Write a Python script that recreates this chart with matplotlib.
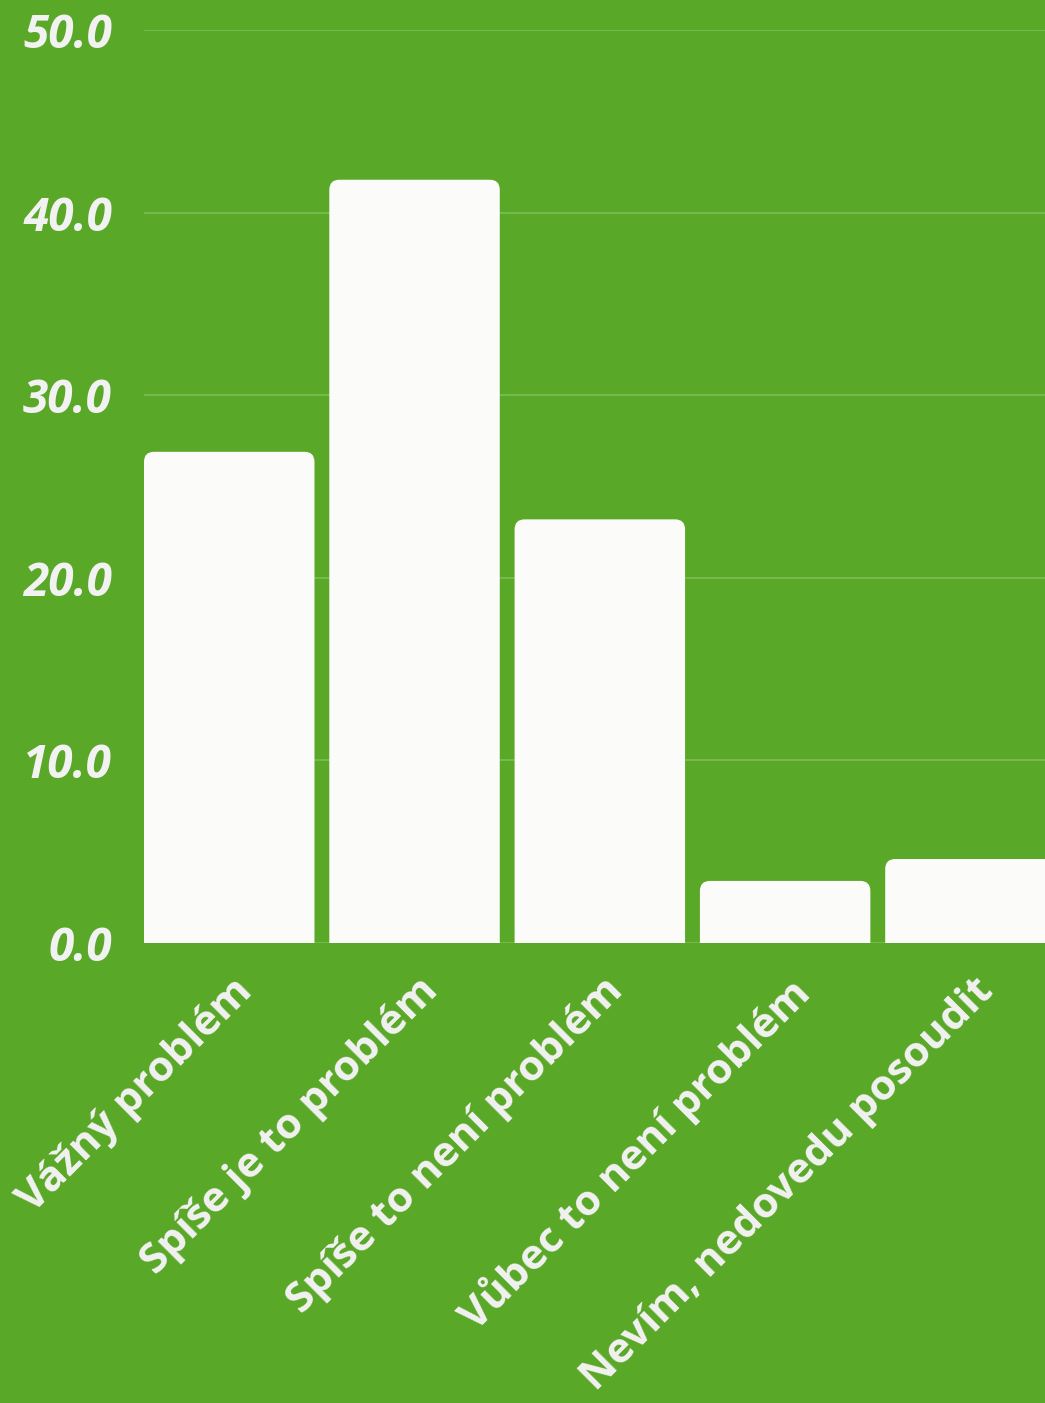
import matplotlib
matplotlib.use('Agg')
import matplotlib.pyplot as plt
import matplotlib.transforms as mtransforms
from matplotlib.patches import FancyBboxPatch

BG = '#5aa828'
BAR = '#fbfbf9'
TXT = '#f2f2f2'
GRID = '#7dbd55'
FONT = ['Open Sans', 'DejaVu Sans']

categories = ['Vážný problém', 'Spíše je to problém', 'Spíše to není problém',
              'Vůbec to není problém', 'Nevím, nedovedu posoudit']
values = [26.9, 41.8, 23.2, 3.4, 4.6]
yticks = [0, 10, 20, 30, 40, 50]

W, H = 1045, 1403
fig = plt.figure(figsize=(W / 100, H / 100), dpi=100)
fig.patch.set_facecolor(BG)
ax = fig.add_axes([144 / W, (H - 943) / H, 1 - 144 / W, (943 - 30) / H])
ax.set_facecolor(BG)

x = list(range(len(categories)))
bars = ax.bar(x, values, width=0.92, bottom=0, color=BAR, zorder=2)

ax.set_xlim(-0.46, -0.46 + 901 / 185.3)
ax.set_ylim(0, 50)

# replace bars by rounded-top versions
fig.canvas.draw()
px_x = (ax.get_xlim()[1] - ax.get_xlim()[0]) / ax.bbox.width
px_y = (ax.get_ylim()[1] - ax.get_ylim()[0]) / ax.bbox.height
r = 10 * px_x
aspect = px_y / px_x
for b in bars:
    b.set_visible(False)
    ext = 2.0
    p = FancyBboxPatch((b.get_x(), b.get_y() - ext), b.get_width(), b.get_height() + ext,
                       boxstyle=f"round,pad=0,rounding_size={r}",
                       mutation_aspect=aspect, facecolor=BAR, edgecolor='none',
                       zorder=2, clip_on=True)
    ax.add_patch(p)

ax.set_yticks(yticks)
ax.set_yticklabels([f'{v:.1f}' for v in yticks])
ax.yaxis.grid(True, color=GRID, linewidth=1.2, zorder=0)
ax.set_axisbelow(True)
for s in ax.spines.values():
    s.set_visible(False)
ax.tick_params(axis='y', length=0, pad=23, labelsize=33, labelcolor=TXT)
for lab in ax.get_yticklabels():
    lab.set_fontfamily(FONT)
    lab.set_fontstyle('italic')
    lab.set_fontweight('bold')

ax.set_xticks(x)
ax.set_xticklabels(categories, rotation=45, ha='right', va='top',
                   rotation_mode='anchor', fontsize=28, color=TXT,
                   family=FONT, fontweight='bold')
ax.tick_params(axis='x', length=0, pad=20)

# scale label size so the longest label spans ~565 px along its baseline
fig.canvas.draw()
rend = fig.canvas.get_renderer()
longest = ax.get_xticklabels()[-1]
longest.set_rotation(0)
w = longest.get_window_extent(rend).width
longest.set_rotation(45)
fs = 28 * 565 / w
offset = mtransforms.ScaledTranslation(3 / 100, 0, fig.dpi_scale_trans)
for lab in ax.get_xticklabels():
    lab.set_fontsize(fs)
    lab.set_transform(lab.get_transform() + offset)

fig.savefig('out.png', dpi=100, facecolor=BG)
